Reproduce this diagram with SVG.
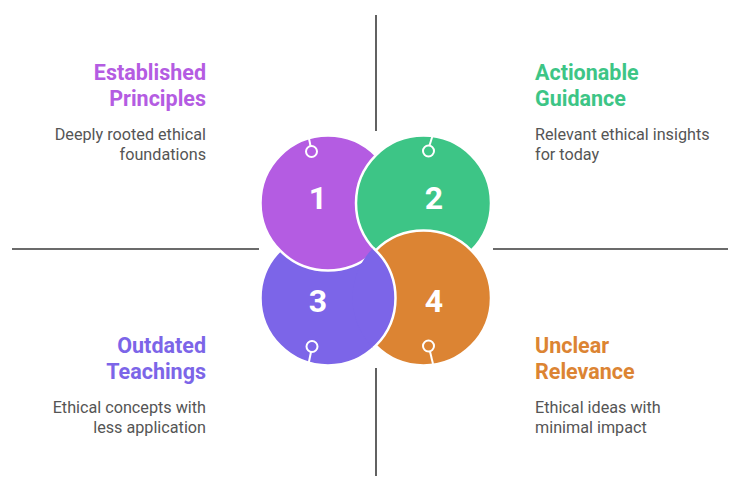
<svg xmlns="http://www.w3.org/2000/svg" width="729" height="477" viewBox="0 0 729 477">
<style>
.ax{stroke:#3a3a3a;stroke-width:1.6;fill:none}
.c{stroke:#fff;stroke-width:2.5}
.num{font-family:Roboto,"Liberation Sans",sans-serif;font-weight:700;font-size:32px;fill:#fff;text-anchor:middle;dominant-baseline:central}
.ttl{font-family:Roboto,"Liberation Sans",sans-serif;font-weight:700;font-size:21.5px}
.dsc{font-family:Roboto,"Liberation Sans",sans-serif;font-size:16.2px;fill:#555}
.r{text-anchor:end}
.pin{fill:none;stroke:#fff;stroke-width:2}
</style>
<defs>
<clipPath id="in4"><circle cx="423.5" cy="298" r="71"/></clipPath>
</defs>
<g id="axes" class="ax">
<line x1="376" y1="15" x2="376" y2="131"/>
<line x1="376" y1="368" x2="376" y2="476"/>
<line x1="12" y1="249" x2="259" y2="249"/>
<line x1="493" y1="249" x2="728" y2="249"/>
</g>
<g id="node3"><circle class="c" cx="328" cy="298" r="67.5" fill="#7c65e8"/></g>
<g id="node1"><circle class="c" cx="328" cy="203" r="67.5" fill="#b45ce2"/></g>
<g id="node2"><circle class="c" cx="423.5" cy="203" r="67.5" fill="#3dc586"/></g>
<g id="node4"><circle class="c" cx="423.5" cy="298" r="67.5" fill="#dc8433"/></g>
<g id="node3-over-4" clip-path="url(#in4)"><circle class="c" cx="328" cy="298" r="67.5" fill="#7c65e8"/></g>
<g id="connectors" class="pin">
<line x1="308.5" y1="136" x2="310.5" y2="146"/><circle cx="311.5" cy="151.5" r="5.5"/>
<line x1="432.5" y1="136" x2="429.5" y2="145.5"/><circle cx="428.5" cy="151" r="5.5"/>
<line x1="308.5" y1="364" x2="311" y2="352"/><circle cx="312" cy="346.5" r="5.5"/>
<line x1="433" y1="364" x2="430" y2="351.5"/><circle cx="428.5" cy="346" r="5.5"/>
</g>
<g id="numbers">
<text class="num" x="318" y="198">1</text>
<text class="num" x="434" y="198">2</text>
<text class="num" x="318" y="301">3</text>
<text class="num" x="434" y="301">4</text>
</g>
<g id="label1">
<text class="ttl r" x="206" y="80" fill="#b45ce2">Established</text>
<text class="ttl r" x="206" y="106" fill="#b45ce2">Principles</text>
<text class="dsc r" x="206" y="140">Deeply rooted ethical</text>
<text class="dsc r" x="206" y="160">foundations</text>
</g>
<g id="label2">
<text class="ttl" x="535" y="80" fill="#3dc586">Actionable</text>
<text class="ttl" x="535" y="106" fill="#3dc586">Guidance</text>
<text class="dsc" x="535" y="140">Relevant ethical insights</text>
<text class="dsc" x="535" y="160">for today</text>
</g>
<g id="label3">
<text class="ttl r" x="206" y="353" fill="#7c65e8">Outdated</text>
<text class="ttl r" x="206" y="379" fill="#7c65e8">Teachings</text>
<text class="dsc r" x="206" y="413">Ethical concepts with</text>
<text class="dsc r" x="206" y="433">less application</text>
</g>
<g id="label4">
<text class="ttl" x="535" y="353" fill="#dc8433">Unclear</text>
<text class="ttl" x="535" y="379" fill="#dc8433">Relevance</text>
<text class="dsc" x="535" y="413">Ethical ideas with</text>
<text class="dsc" x="535" y="433">minimal impact</text>
</g>
</svg>
